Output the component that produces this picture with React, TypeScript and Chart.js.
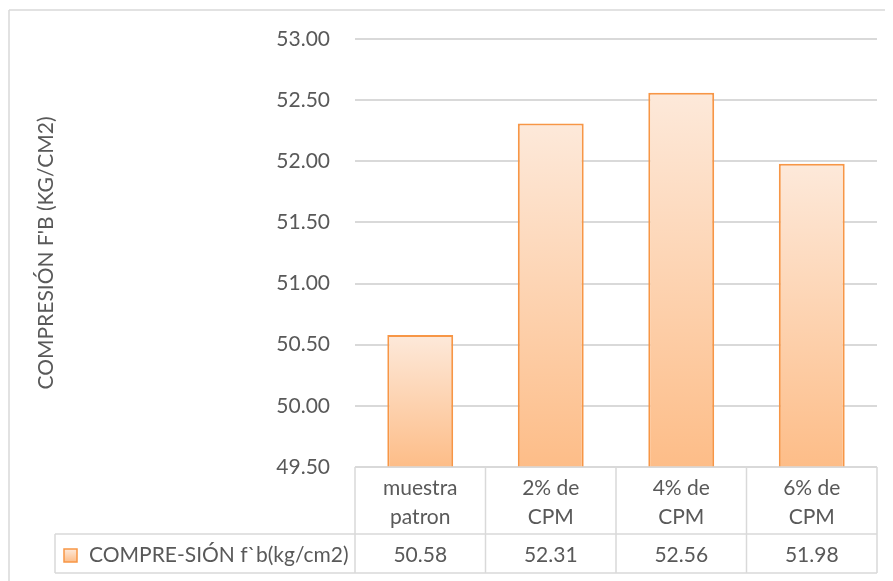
import React, { useEffect, useRef } from "react";
import { Chart, registerables } from "chart.js";

Chart.register(...registerables);

const categories: string[][] = [["muestra", "patron"], ["2% de", "CPM"], ["4% de", "CPM"], ["6% de", "CPM"]];
const values: number[] = [50.58, 52.31, 52.56, 51.98];
const seriesName = "COMPRE-SIÓN f`b(kg/cm2)";
const yTitle = "COMPRESIÓN F'B (KG/CM2)";
const yMin = 49.5;
const yMax = 53;
const yStep = 0.5;

const FONT = "Lato";
const TEXT = "#595959";
const LINE = "#d9d9d9";
const BORDER = "#F79646";
const TOP_C = "#FDE9DA";
const BOT_C = "#FDBD88";

const tablePlugin = {
  id: "dataTable",
  beforeDraw(chart: any) {
    const c = chart.ctx;
    c.save();
    c.fillStyle = "#ffffff";
    c.fillRect(0, 0, chart.width, chart.height);
    c.strokeStyle = LINE;
    c.lineWidth = 1.5;
    c.beginPath();
    c.moveTo(1, 2);
    c.lineTo(chart.width, 2);
    c.moveTo(1, 2);
    c.lineTo(1, chart.height);
    c.stroke();
    c.restore();
  },
  afterDraw(chart: any) {
    const c = chart.ctx;
    const area = chart.chartArea;
    const x = chart.scales.x;
    const n = categories.length;
    const colW = (area.right - area.left) / n;
    const top = area.bottom;
    const mid = top + 67;
    const bot = top + 106;
    const legLeft = 47;
    c.save();
    c.strokeStyle = LINE;
    c.lineWidth = 1.5;
    c.beginPath();
    c.moveTo(area.left, top);
    c.lineTo(area.right, top);
    c.moveTo(legLeft, mid);
    c.lineTo(area.right, mid);
    c.moveTo(legLeft, bot);
    c.lineTo(area.right, bot);
    for (let i = 0; i <= n; i++) {
      const px = i < n ? x.getPixelForValue(i) - colW / 2 : x.getPixelForValue(n - 1) + colW / 2;
      c.moveTo(px, top);
      c.lineTo(px, bot);
    }
    c.moveTo(legLeft, mid);
    c.lineTo(legLeft, bot);
    c.stroke();

    c.fillStyle = TEXT;
    c.font = `21px ${FONT}`;
    c.textAlign = "center";
    c.textBaseline = "middle";
    categories.forEach((lines, i) => {
      const cx = x.getPixelForValue(i);
      c.fillText(lines[0], cx, top + 21);
      c.fillText(lines[1], cx, top + 50);
      c.fillText(values[i].toFixed(2), cx, mid + 21);
    });

    // legend marker
    const my = mid + 15;
    const g = c.createLinearGradient(0, my, 0, my + 13);
    g.addColorStop(0, TOP_C);
    g.addColorStop(1, BOT_C);
    c.fillStyle = g;
    c.fillRect(56, my, 13, 13);
    c.strokeStyle = BORDER;
    c.lineWidth = 1.5;
    c.strokeRect(56, my, 13, 13);
    c.fillStyle = TEXT;
    c.textAlign = "left";
    c.fillText(seriesName, 81, mid + 21);
    c.restore();
  },
};

export default function App() {
  const ref = useRef<HTMLCanvasElement | null>(null);
  useEffect(() => {
    document.documentElement.style.overflow = "hidden";
    const canvas = ref.current;
    if (!canvas) return;
    const chart = new Chart(canvas, {
      type: "bar",
      data: {
        labels: categories.map((c) => c.join(" ")),
        datasets: [
          {
            label: seriesName,
            data: values,
            backgroundColor: (ctx: any) => {
              const ch = ctx.chart;
              const area = ch.chartArea;
              if (!area || ctx.type !== "data") return "#FCCB9F";
              const top = ch.scales.y.getPixelForValue(ctx.raw);
              const g = ch.ctx.createLinearGradient(0, top, 0, area.bottom);
              g.addColorStop(0, TOP_C);
              g.addColorStop(1, BOT_C);
              return g;
            },
            borderColor: BORDER,
            borderWidth: 2,
            barPercentage: 0.505,
            categoryPercentage: 1,
          },
        ],
      },
      options: {
        animation: false,
        responsive: false,
        maintainAspectRatio: false,
        layout: { padding: { top: 31, right: 16, bottom: 114, left: 0 } },
        plugins: { legend: { display: false }, tooltip: { enabled: false } },
        scales: {
          x: {
            display: false,
          },
          y: {
            min: yMin,
            max: yMax,
            afterFit: (s: any) => {
              s.width = 347;
              s.paddingTop = 0;
              s.paddingBottom = 0;
            },
            ticks: {
              stepSize: yStep,
              padding: 25,
              color: TEXT,
              font: { family: FONT, size: 21 },
              callback: (v: any) => Number(v).toFixed(2),
            },
            grid: { color: LINE, lineWidth: 2, drawTicks: false },
            border: { display: false },
            title: {
              display: true,
              text: yTitle,
              color: TEXT,
              font: { family: FONT, size: 21 },
              padding: { top: 26, bottom: 0 },
            },
          },
        },
      },
      plugins: [tablePlugin],
    });
    return () => chart.destroy();
  }, []);
  return (
    <div style={{ width: 885, height: 573 }}>
      <canvas ref={ref} width={885} height={573} style={{ display: "block" }} />
    </div>
  );
}
